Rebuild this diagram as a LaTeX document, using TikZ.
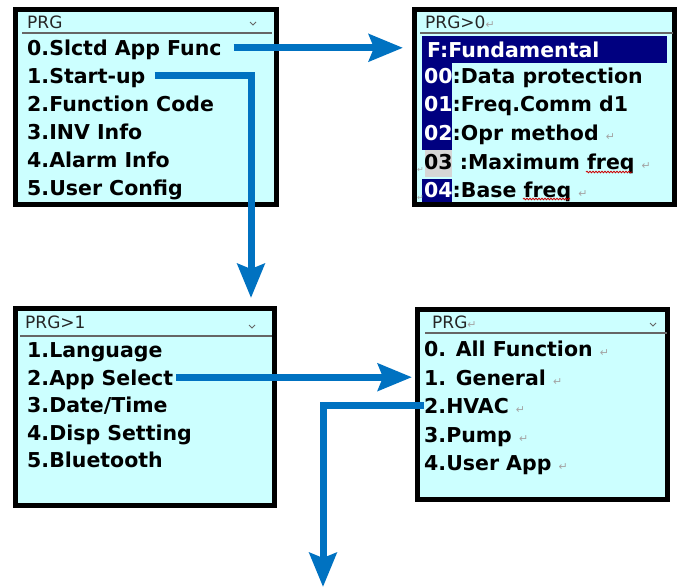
\documentclass[tikz,border=0pt]{standalone}
\usepackage{fontspec}
\setmainfont{DejaVu Sans}
\usetikzlibrary{
    positioning, % relative placement of the menu rows
    arrows.meta, % Stealth tips for the blue arrows
    decorations.pathmorphing % wavy spell-check underline
}
\definecolor{lcdcyan}{RGB}{204,255,255}
\definecolor{menunavy}{RGB}{0,0,128}
\definecolor{flowblue}{RGB}{0,114,193}
\definecolor{markgray}{RGB}{165,165,165}
\definecolor{hlgray}{RGB}{214,214,214}

% small return mark after a menu line
\newcommand{\retmark}{{\fontsize{11}{11}\selectfont\mdseries\textcolor{markgray}{↵}}}

\begin{document}
\begin{tikzpicture}[x=1pt, y=-1pt]

    % --- Styles ---
    \tikzset{
        % LCD screen frame
        screen/.style={
            draw=black,
            line width=5pt,
            fill=lcdcyan,
            inner sep=0pt
        },
        % title line of a screen
        title_text/.style={
            font=\fontsize{17}{19}\selectfont,
            text=black!85,
            inner sep=0pt,
            anchor=base west
        },
        % one row of a menu
        menu_item/.style={
            font=\fontsize{20.5}{24}\selectfont\bfseries,
            inner sep=0pt,
            text height=16pt,
            text depth=0pt,
            anchor=south west
        },
        % highlighted (selected) row
        sel_bar/.style={
            fill=menunavy,
            text=white,
            font=\fontsize{20.5}{24}\selectfont\bfseries,
            inner xsep=5pt,
            inner ysep=0pt,
            text width=235pt,
            minimum height=27pt,
            align=left,
            anchor=north west
        },
        title_rule/.style={draw=black!60, line width=1.5pt},
        chevron/.style={draw=black!60, line width=1pt},
        spell/.style={
            draw=red!80!black,
            line width=0.8pt,
            decorate,
            decoration={snake, amplitude=0.8pt, segment length=3pt}
        },
        % blue arrows between the screens
        flow/.style={
            -{Stealth[length=34pt, width=27pt, inset=5pt]},
            line width=7pt,
            draw=flowblue
        }
    }

    \useasboundingbox (0,0) rectangle (680,588);

    % --- Screens ---
    \node[screen, minimum width=261pt, minimum height=195pt] (scrA) at (146,107) {};
    \node[screen, minimum width=260pt, minimum height=195pt] (scrB) at (544.5,107) {};
    \node[screen, minimum width=259pt, minimum height=197pt] (scrC) at (145,407) {};
    \node[screen, minimum width=250pt, minimum height=190pt] (scrD) at (542.5,404.5) {};

    % title bars
    \draw[title_rule] ([shift={(9,26)}]scrA.north west) -- ([shift={(-7,26)}]scrA.north east);
    \draw[title_rule] ([shift={(8,26)}]scrB.north west) -- ([shift={(-4,26)}]scrB.north east);
    \draw[title_rule] ([shift={(7,30)}]scrC.north west) -- ([shift={(-5,30)}]scrC.north east);
    \draw[title_rule] ([shift={(10,26)}]scrD.north west) -- ([shift={(-3,26)}]scrD.north east);
    \draw[chevron] (250,22) -- (253,25) -- (256,22);
    \draw[chevron] (249,325) -- (252,328) -- (255,325);
    \draw[chevron] (650,323) -- (653,326) -- (656,323);

    \node[title_text] (titleA) at (27,29) {PRG};
    \node[title_text] (titleB) at (425,29) {PRG>0\retmark};
    \node[title_text] (titleC) at (25,328) {PRG>1};
    \node[title_text] (titleD) at (432,328) {PRG\retmark};

    % --- Screen PRG ---
    \node[menu_item] (slctd) at (27,56) {0.Slctd App Func};
    \node[menu_item, below=11.5pt of slctd.south west, anchor=north west] (startup) {1.Start-up};
    \node[menu_item, below=11.5pt of startup.south west, anchor=north west] (fcode) {2.Function Code};
    \node[menu_item, below=11.5pt of fcode.south west, anchor=north west] (invinfo) {3.INV Info};
    \node[menu_item, below=11.5pt of invinfo.south west, anchor=north west] (alarm) {4.Alarm Info};
    \node[menu_item, below=11.5pt of alarm.south west, anchor=north west] (usercfg) {5.User Config};

    % --- Screen PRG>0 ---
    \node[sel_bar] (fund) at (422,36) {F:Fundamental};
    \fill[menunavy] (422,63) rectangle (452,150);
    \fill[hlgray] (425,150) rectangle (452,177);
    \fill[menunavy] (422,179) rectangle (452,202);
    \node[menu_item] (dataprot) at (424,84) {\textcolor{white}{00}:Data protection};
    \node[menu_item, below=11pt of dataprot.south west, anchor=north west] (freqcomm) {\textcolor{white}{01}:Freq.Comm d1};
    \node[menu_item, below=13pt of freqcomm.south west, anchor=north west] (oprmeth) {\textcolor{white}{02}:Opr method \retmark};
    \node[menu_item, below=13pt of oprmeth.south west, anchor=north west] (maxfreq) {03 :Maximum freq \retmark};
    \node[menu_item, below=11pt of maxfreq.south west, anchor=north west] (basefreq) {\textcolor{white}{04}:Base freq \retmark};
    \node[inner sep=0pt, anchor=base east, font=\fontsize{8}{8}\selectfont, text=markgray, left=0pt of maxfreq.south west] (markC) {↵};
    \node[inner sep=0pt, anchor=base east, font=\fontsize{8}{8}\selectfont, text=markgray, left=0pt of basefreq.south west] (markD) {↵};
    \draw[spell] (586,172) -- (632,172);
    \draw[spell] (523,199) -- (570,199);

    % --- Screen PRG>1 ---
    \node[menu_item] (language) at (27,358) {1.Language};
    \node[menu_item, below=11pt of language.south west, anchor=north west] (appsel) {2.App Select};
    \node[menu_item, below=11pt of appsel.south west, anchor=north west] (datetime) {3.Date/Time};
    \node[menu_item, below=11pt of datetime.south west, anchor=north west] (dispset) {4.Disp Setting};
    \node[menu_item, below=11pt of dispset.south west, anchor=north west] (bluetooth) {5.Bluetooth};

    % --- Screen PRG (application) ---
    \node[menu_item] (allfunc) at (424,357) {0. All Function \retmark};
    \node[menu_item, below=12pt of allfunc.south west, anchor=north west] (general) {1. General \retmark};
    \node[menu_item, below=12pt of general.south west, anchor=north west] (hvac) {2.HVAC \retmark};
    \node[menu_item, below=12pt of hvac.south west, anchor=north west] (pump) {3.Pump \retmark};
    \node[menu_item, below=12pt of pump.south west, anchor=north west] (userapp) {4.User App \retmark};

    % --- Arrows ---
    \draw[flow, shorten <=12pt, shorten >=9pt] (slctd.east) -- (slctd.east -| scrB.west);
    \draw[flow, shorten <=9pt, shorten >=8pt] (startup.east) -| ([xshift=106pt]scrC.north);
    \draw[flow, shorten <=3pt, shorten >=12pt] (appsel.east) -- (general.west);
    \coordinate (downend) at (323,587);
    \draw[flow] (hvac.west) -| (downend);

\end{tikzpicture}
\end{document}
